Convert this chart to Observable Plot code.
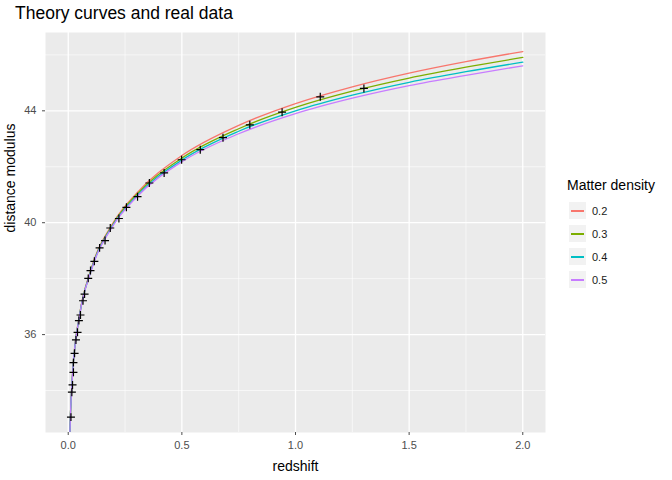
<!DOCTYPE html>
<html><head><meta charset="utf-8">
<script src="https://cdn.jsdelivr.net/npm/d3@7"></script>
<script src="https://cdn.jsdelivr.net/npm/@observablehq/plot@0.6"></script>
<style>
body{margin:0;font-family:"Liberation Sans",Arial,sans-serif;background:#fff;}
#wrap{position:relative;width:672px;height:480px;}
#title{position:absolute;left:15px;top:3px;font-size:17.5px;color:#000;}
#chart{position:absolute;left:0;top:30px;}
#legend{position:absolute;left:567px;top:177px;font-size:13px;color:#000;}
.row{display:flex;align-items:center;height:23px;font-size:11px;color:#1a1a1a;}
.key{width:17px;height:17px;background:#f2f2f2;margin-right:6px;margin-left:2px;position:relative;}
.key span{position:absolute;left:2px;right:2px;top:8px;height:1.5px;}
</style></head><body>
<div id="wrap"><div id="title">Theory curves and real data</div><div id="chart"></div><div id="legend"></div></div>
<script>
const densities = ["0.2", "0.3", "0.4", "0.5"];
const colors = ["#F8766D", "#7CAE00", "#00BFC4", "#C77CFF"];
const curveZ = [0.007, 0.01, 0.02, 0.05, 0.1, 0.2, 0.3, 0.5, 0.75, 1.0, 1.25, 1.5, 1.75, 2.0];
const curveMu = {
  "0.2": [32.4, 33.19, 34.71, 36.72, 38.33, 40.03, 41.05, 42.40, 43.48, 44.26, 44.86, 45.35, 45.76, 46.12],
  "0.3": [32.4, 33.18, 34.70, 36.70, 38.30, 39.99, 41.00, 42.31, 43.36, 44.12, 44.70, 45.17, 45.56, 45.91],
  "0.4": [32.4, 33.18, 34.69, 36.69, 38.28, 39.96, 40.95, 42.24, 43.27, 44.00, 44.56, 45.02, 45.40, 45.74],
  "0.5": [32.4, 33.17, 34.68, 36.68, 38.26, 39.93, 40.91, 42.18, 43.18, 43.90, 44.45, 44.90, 45.27, 45.61]
};
const dataZ = [0.012, 0.016, 0.019, 0.023, 0.023, 0.028, 0.034, 0.041, 0.047, 0.054, 0.065, 0.072, 0.088, 0.098, 0.115, 0.138, 0.162, 0.185, 0.223, 0.256, 0.305, 0.357, 0.422, 0.499, 0.581, 0.681, 0.799, 0.941, 1.109, 1.301];
const dataMu = [33.05, 33.94, 34.2, 34.65, 35.0, 35.33, 35.81, 36.08, 36.5, 36.7, 37.21, 37.45, 38.01, 38.29, 38.62, 39.1, 39.36, 39.81, 40.15, 40.55, 40.93, 41.42, 41.78, 42.25, 42.61, 43.04, 43.5, 43.95, 44.5, 44.8];

const curves = densities.flatMap(d => curveZ.map((z, i) => ({z, mu: curveMu[d][i], d})));
const points = dataZ.map((z, i) => ({z, mu: dataMu[i]}));
const plus = {draw(c, s) { const r = Math.sqrt(s) / 2; c.moveTo(-r, 0); c.lineTo(r, 0); c.moveTo(0, -r); c.lineTo(0, r); }};

const chart = Plot.plot({
  width: 560, height: 450,
  marginLeft: 45, marginRight: 15, marginTop: 2, marginBottom: 48,
  style: {fontFamily: "Liberation Sans, Arial, sans-serif", fontSize: "11px", background: "#fff"},
  x: {domain: [-0.1, 2.1], ticks: [0, 0.5, 1, 1.5, 2], tickFormat: d3.format(".1f"), label: null},
  y: {domain: [32.5, 46.8], ticks: [36, 40, 44], label: null},
  color: {domain: densities, range: colors},
  marks: [
    Plot.frame({fill: "#ebebeb", stroke: null}),
    Plot.gridX([0.25, 0.75, 1.25, 1.75], {stroke: "#fff", strokeOpacity: 1, strokeWidth: 0.6}),
    Plot.gridY([34, 38, 42, 46], {stroke: "#fff", strokeOpacity: 1, strokeWidth: 0.6}),
    Plot.gridX([0, 0.5, 1, 1.5, 2], {stroke: "#fff", strokeOpacity: 1, strokeWidth: 1.3}),
    Plot.gridY([36, 40, 44], {stroke: "#fff", strokeOpacity: 1, strokeWidth: 1.3}),
    Plot.axisX({ticks: [0, 0.5, 1, 1.5, 2], tickFormat: d3.format(".1f"), tickSize: 3, color: "#4d4d4d", label: null}),
    Plot.axisY({ticks: [36, 40, 44], tickSize: 3, color: "#4d4d4d", label: null}),
    Plot.line(curves, {x: "z", y: "mu", z: "d", stroke: "d", strokeWidth: 1.3, curve: "monotone-x", clip: true}),
    Plot.dot(points, {x: "z", y: "mu", symbol: plus, r: 4.5, stroke: "black", strokeWidth: 1.2}),
    Plot.text(["redshift"], {frameAnchor: "bottom", dy: 38, fontSize: 14, fill: "#000"}),
    Plot.text(["distance modulus"], {frameAnchor: "left", dx: -35, rotate: -90, fontSize: 14, fill: "#000"})
  ]
});
document.getElementById("chart").append(chart);

const leg = document.getElementById("legend");
leg.innerHTML = `<div style="font-size:14px;margin-bottom:6px">Matter density</div>` +
  densities.map((d, i) => `<div class="row"><div class="key"><span style="background:${colors[i]}"></span></div>${d}</div>`).join("");
</script>
</body></html>
